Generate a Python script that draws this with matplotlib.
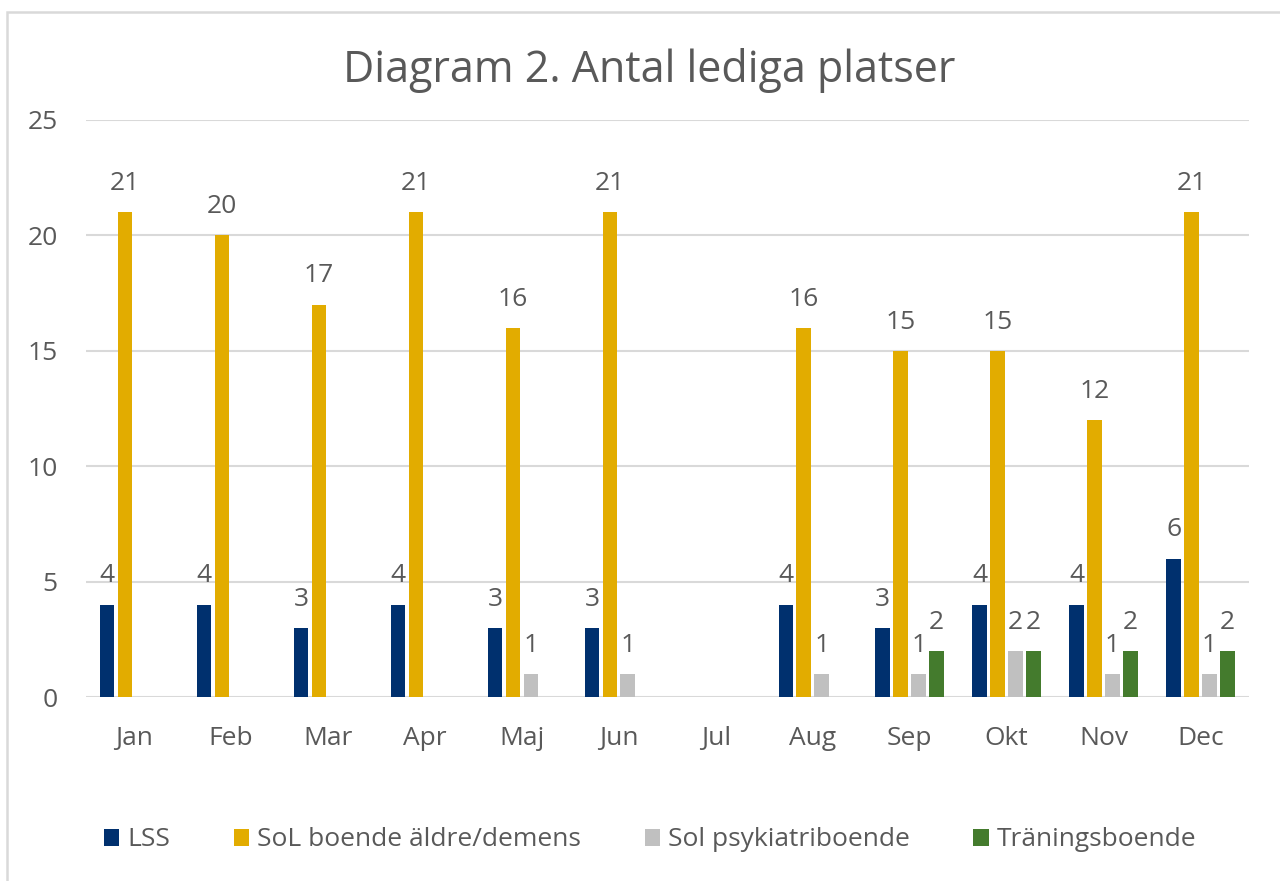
import matplotlib.pyplot as plt
import numpy as np
from matplotlib.patches import Rectangle

months = ["Jan", "Feb", "Mar", "Apr", "Maj", "Jun", "Jul", "Aug", "Sep", "Okt", "Nov", "Dec"]
lss = [4, 4, 3, 4, 3, 3, None, 4, 3, 4, 4, 6]
sol_aldre = [21, 20, 17, 21, 16, 21, None, 16, 15, 15, 12, 21]
sol_psyk = [None, None, None, None, 1, 1, None, 1, 1, 2, 1, 1]
traning = [None, None, None, None, None, None, None, None, 2, 2, 2, 2]

series = [
    ("LSS", lss, "#00306e"),
    ("SoL boende äldre/demens", sol_aldre, "#e2ac00"),
    ("Sol psykiatriboende", sol_psyk, "#c0c0c0"),
    ("Träningsboende", traning, "#447b2d"),
]

plt.rcParams['font.family'] = ['Open Sans', 'DejaVu Sans']
txt = "#595959"

fig = plt.figure(figsize=(12.8, 8.81), dpi=100)
ax = fig.add_axes([0.0668, 0.2088, 0.909, 0.655])

x = np.arange(len(months))
w = 0.15
step = 0.185
for i, (name, vals, col) in enumerate(series):
    xs = x + (i - 1.5) * step
    h = [v if v is not None else 0 for v in vals]
    ax.bar(xs, h, width=w, color=col, label=name, zorder=3)
    for xi, v in zip(xs, vals):
        if v is not None:
            ax.annotate(str(v), (xi, v), xytext=(0, 16), textcoords="offset points",
                        ha="center", va="baseline", fontsize=19, color=txt)

ax.set_ylim(0, 25)
ax.set_xlim(-0.5, 11.5)
ax.set_yticks(range(0, 26, 5))
ax.set_xticks(x)
ax.set_xticklabels(months)
ax.tick_params(axis="both", length=0, labelsize=19, colors=txt)
ax.tick_params(axis="x", pad=21)
ax.tick_params(axis="y", pad=20)
ax.grid(axis="y", color="#d9d9d9", linewidth=1.5, zorder=0)
for s in ax.spines.values():
    s.set_visible(False)

fig.text(0.507, 1 - 82 / 881, "Diagram 2. Antal lediga platser", ha="center", va="baseline",
         fontsize=31, color=txt)

ax.legend(loc="center", bbox_to_anchor=(0.508, 1 - 840 / 881), bbox_transform=fig.transFigure,
          ncol=4, frameon=False, fontsize=19, handlelength=0.6, handleheight=0.6,
          handletextpad=0.3, columnspacing=2.4, labelcolor=txt)

# chart frame (only top/left edges visible in the crop)
fig.patches.append(Rectangle((7 / 1280, -0.05), 1.2, 1 - 12 / 881 + 0.05, transform=fig.transFigure,
                             fill=False, edgecolor="#d9d9d9", linewidth=1.8))

fig.savefig("out.png", dpi=100)
